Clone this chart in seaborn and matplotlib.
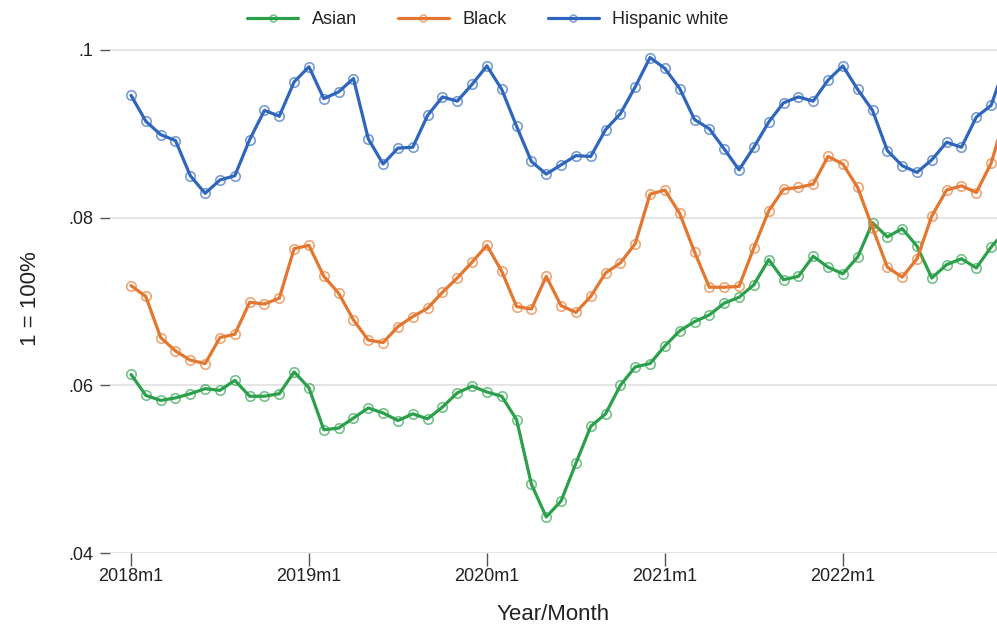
import numpy as np
import pandas as pd
import matplotlib
matplotlib.use("Agg")
import matplotlib.pyplot as plt
import seaborn as sns
from matplotlib.colors import to_rgba
from matplotlib.lines import Line2D

# ---- data (monthly, starting 2018m1) ----
asian = [0.0613, 0.0588, 0.0582, 0.0585, 0.0590, 0.0596, 0.0594, 0.0606, 0.0587, 0.0587,
         0.0590, 0.0616, 0.0597, 0.0547, 0.0549, 0.0561, 0.0573, 0.0567, 0.0558, 0.0566,
         0.0560, 0.0574, 0.0591, 0.0599, 0.0592, 0.0587, 0.0559, 0.0482, 0.0443, 0.0462,
         0.0507, 0.0551, 0.0566, 0.0600, 0.0622, 0.0626, 0.0647, 0.0665, 0.0676, 0.0684,
         0.0698, 0.0705, 0.0720, 0.0750, 0.0726, 0.0730, 0.0754, 0.0741, 0.0733, 0.0753,
         0.0794, 0.0777, 0.0787, 0.0766, 0.0728, 0.0744, 0.0751, 0.0740, 0.0765, 0.0785]
black = [0.0719, 0.0706, 0.0657, 0.0641, 0.0630, 0.0626, 0.0657, 0.0661, 0.0699, 0.0697,
         0.0704, 0.0763, 0.0767, 0.0730, 0.0710, 0.0678, 0.0654, 0.0651, 0.0670, 0.0682,
         0.0692, 0.0711, 0.0728, 0.0747, 0.0767, 0.0736, 0.0694, 0.0691, 0.0730, 0.0695,
         0.0687, 0.0706, 0.0734, 0.0746, 0.0769, 0.0828, 0.0833, 0.0805, 0.0759, 0.0717,
         0.0717, 0.0718, 0.0764, 0.0808, 0.0834, 0.0836, 0.0840, 0.0873, 0.0864, 0.0836,
         0.0788, 0.0741, 0.0729, 0.0751, 0.0802, 0.0833, 0.0838, 0.0830, 0.0865, 0.0925]
hispanic_white = [0.0946, 0.0915, 0.0899, 0.0892, 0.0850, 0.0829, 0.0845, 0.0850, 0.0893, 0.0928,
                  0.0921, 0.0962, 0.0980, 0.0942, 0.0950, 0.0966, 0.0894, 0.0864, 0.0883, 0.0884,
                  0.0922, 0.0944, 0.0939, 0.0959, 0.0981, 0.0953, 0.0909, 0.0867, 0.0852, 0.0863,
                  0.0874, 0.0873, 0.0905, 0.0924, 0.0956, 0.0991, 0.0978, 0.0954, 0.0917, 0.0906,
                  0.0882, 0.0857, 0.0884, 0.0914, 0.0937, 0.0944, 0.0939, 0.0964, 0.0981, 0.0953,
                  0.0928, 0.0880, 0.0862, 0.0854, 0.0869, 0.0890, 0.0884, 0.0920, 0.0934, 0.0985]

series_names = ["Asian", "Black", "Hispanic white"]
series_values = [asian, black, hispanic_white]
colors = ["#2ba04b", "#e4772f", "#2f66bd"]

x_tick_pos = [0, 12, 24, 36, 48]
x_tick_labels = ["2018m1", "2019m1", "2020m1", "2021m1", "2022m1"]
y_ticks = [0.04, 0.06, 0.08, 0.10]
y_tick_labels = [".04", ".06", ".08", ".1"]

months = np.arange(len(asian))
df = pd.concat([pd.DataFrame({"t": months, "v": vals, "group": name})
                for name, vals in zip(series_names, series_values)], ignore_index=True)

# ---- style ----
sns.set_theme(style="white")
plt.rcParams["font.family"] = ["Liberation Sans", "DejaVu Sans"]

W, H = 997, 627
fig = plt.figure(figsize=(W / 100, H / 100), dpi=100)
ax_left, ax_right, ax_bottom, ax_top = 110, 997, 553, 45
ax = fig.add_axes([ax_left / W, 1 - ax_bottom / H, (ax_right - ax_left) / W, (ax_bottom - ax_top) / H])

handles = []
for name, col in zip(series_names, colors):
    sub = df[df["group"] == name]
    mec = to_rgba(col, 0.65)
    sns.lineplot(data=sub, x="t", y="v", ax=ax, color=col, linewidth=2.3,
                 marker="o", markersize=6.8, markerfacecolor="none",
                 markeredgecolor=mec, markeredgewidth=1.2, legend=False, zorder=3)
    handles.append(Line2D([0], [0], color=col, lw=2.3, marker="o", markersize=5,
                          markerfacecolor="none", markeredgecolor=mec, markeredgewidth=1.1))

px_per_month = 14.83
x0 = 131
ax.set_xlim(-(x0 - ax_left) / px_per_month, (ax_right - x0) / px_per_month)
px_per_unit = 503 / 0.06
ax.set_ylim(0.04, 0.04 + (ax_bottom - ax_top) / px_per_unit)

ax.set_yticks(y_ticks)
ax.set_yticklabels(y_tick_labels)
ax.set_xticks(x_tick_pos)
ax.set_xticklabels(x_tick_labels)

for s in ax.spines.values():
    s.set_visible(False)
ax.grid(False)
for yv in y_ticks:
    ax.axhline(yv, color="#e3e3e3", lw=1.3, zorder=1)

ax.tick_params(axis="y", which="both", left=True, length=7, width=1.0, color="#555555",
               labelsize=13, pad=5, labelcolor="#222222")
ax.tick_params(axis="x", which="both", bottom=True, length=9, width=1.0, color="#555555",
               labelsize=13, pad=2, labelcolor="#222222")

ax.set_xlabel("Year/Month", fontsize=16, color="#222222")
ax.set_ylabel("1 = 100%", fontsize=16, color="#222222")
ax.xaxis.label.set_va("center")
ax.xaxis.set_label_coords(0.5, -(615 - ax_bottom) / (ax_bottom - ax_top))
ax.yaxis.label.set_va("center")
ax.yaxis.set_label_coords(-(ax_left - 31) / (ax_right - ax_left), 0.5)

fig.legend(handles, series_names, loc="center", bbox_to_anchor=(488 / W, 1 - 20 / H),
           ncol=3, frameon=False, fontsize=13, handlelength=2.8, columnspacing=2.3,
           handletextpad=0.75, labelcolor="#222222")

fig.savefig("out.png", dpi=100)
